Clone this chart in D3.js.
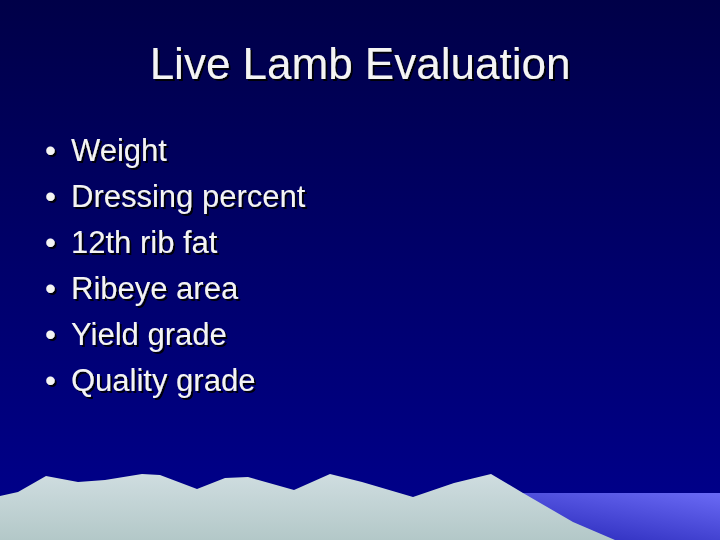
<!DOCTYPE html>
<html><head><meta charset="utf-8">
<script src="https://cdn.jsdelivr.net/npm/d3@7"></script>
<style>body{margin:0;overflow:hidden}</style></head>
<body><div id="slide"></div>
<script>
const title = "Live Lamb Evaluation";
const bullets = ["Weight", "Dressing percent", "12th rib fat", "Ribeye area", "Yield grade", "Quality grade"];
// mountain outline
const ridge = [[0,496],[18,492],[46,476],[78,482],[105,480],[142,474],[160,475],[197,489],[225,478],[248,477],[294,490],[330,474],[362,482],[413,497],[454,483],[491,474],[523,493],[573,522],[615,540],[0,540]];

const width = 720, height = 540;
const svg = d3.select("#slide").append("svg").attr("width", width).attr("height", height);
const defs = svg.append("defs");

const bg = defs.append("linearGradient").attr("id", "bg").attr("x1", 0).attr("y1", 0).attr("x2", 0).attr("y2", 1);
bg.append("stop").attr("offset", "0%").attr("stop-color", "#000048");
bg.append("stop").attr("offset", "100%").attr("stop-color", "#00008e");

const sea = defs.append("linearGradient").attr("id", "sea").attr("x1", 1).attr("y1", 0).attr("x2", 0.3).attr("y2", 1);
sea.append("stop").attr("offset", "0%").attr("stop-color", "#6a6af5");
sea.append("stop").attr("offset", "100%").attr("stop-color", "#3030c0");

const snow = defs.append("linearGradient").attr("id", "snow").attr("x1", 0).attr("y1", 0).attr("x2", 0).attr("y2", 1);
snow.append("stop").attr("offset", "0%").attr("stop-color", "#cfdde0");
snow.append("stop").attr("offset", "100%").attr("stop-color", "#b3c8c8");

const shadow = defs.append("filter").attr("id", "sh");
shadow.append("feDropShadow").attr("dx", 2).attr("dy", 2).attr("stdDeviation", 0.5).attr("flood-color", "#000000").attr("flood-opacity", 0.9);

svg.append("rect").attr("width", width).attr("height", height).attr("fill", "url(#bg)");
svg.append("rect").attr("x", 518).attr("y", 493).attr("width", 202).attr("height", 47).attr("fill", "url(#sea)");
svg.append("path").attr("d", d3.line()(ridge) + "Z").attr("fill", "url(#snow)");

svg.append("text").attr("x", 360).attr("y", 79).attr("text-anchor", "middle")
  .attr("font-family", "Liberation Sans, Arial, sans-serif").attr("font-size", 44)
  .attr("fill", "#f4f4f4").attr("filter", "url(#sh)").text(title);

const y = d3.scalePoint().domain(bullets).range([161, 391]);
const g = svg.append("g").attr("font-family", "Liberation Sans, Arial, sans-serif")
  .attr("font-size", 31).attr("fill", "#f4f4f4").attr("filter", "url(#sh)");
g.selectAll("text.b").data(bullets).join("text").attr("class", "b")
  .attr("x", 45).attr("y", d => y(d)).text("•");
g.selectAll("text.t").data(bullets).join("text").attr("class", "t")
  .attr("x", 71).attr("y", d => y(d)).text(d => d);
</script></body></html>
